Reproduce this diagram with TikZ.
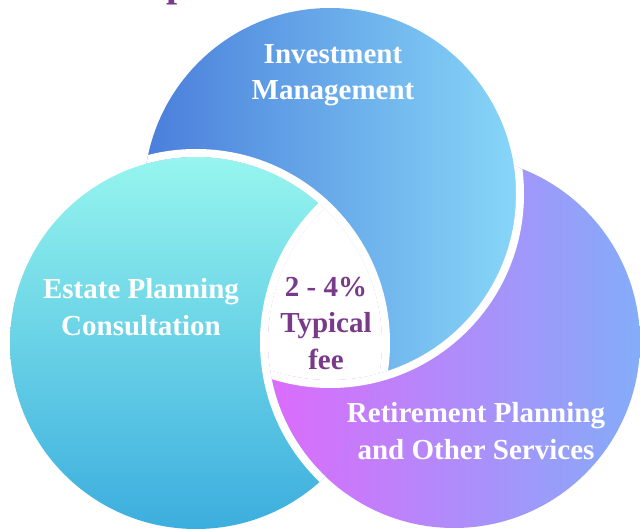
\documentclass[tikz,border=0pt]{standalone}
\usepackage{fontspec}
\setmainfont{Liberation Serif}
\usepackage{tikz}
\definecolor{invleft}{HTML}{4A7EDB}
\definecolor{invright}{HTML}{87D6F8}
\definecolor{esttop}{HTML}{96F5EE}
\definecolor{estbottom}{HTML}{3CAEDE}
\definecolor{retleft}{HTML}{DC6BFB}
\definecolor{retmid}{HTML}{B08CFA}
\definecolor{retright}{HTML}{84ACF9}
\definecolor{feepurple}{HTML}{7A3A8A}
\def\rad{186pt}
\def\ringrad{190pt}
\tikzset{ringgap/.style={draw=white, line width=8pt},
	invshade/.style={left color=invleft, right color=invright},
	estshade/.style={top color=esttop, bottom color=estbottom},
	retshade/.style={left color=retleft, right color=retright},
	retshadeb/.style={left color=retleft, middle color=retmid, right color=retright}}
\tikzstyle{caption}=[text=white, align=center,
font=\bfseries\fontsize{29}{36.5}\selectfont]
\tikzstyle{fee}=[caption, text=feepurple]

\begin{document}
\begin{tikzpicture}[x=1pt, y=-1pt]
	\useasboundingbox (0,0) rectangle (640,529);
	\coordinate (inv) at (330,194);
	\coordinate (est) at (196,343);
	\coordinate (ret) at (454,342);
	\shade[retshade] (ret) circle (\rad);
	\shade[invshade] (inv) circle (\rad);
	\shade[estshade] (est) circle (\rad);
	\begin{scope}
		\clip (est) circle (\rad);
		\shade[retshadeb] (ret) circle (\rad);
	\end{scope}
	\begin{scope}
		\clip (inv) circle (\rad);
		\clip (est) circle (\rad);
		\fill[white] (ret) circle (\rad);
	\end{scope}
	\begin{scope}
		\clip (inv) circle (\rad);
		\draw[ringgap] (est) circle (\ringrad);
	\end{scope}
	\begin{scope}
		\clip (est) circle (\rad);
		\draw[ringgap] (ret) circle (\ringrad);
	\end{scope}
	\begin{scope}
		\clip (ret) circle (\rad);
		\draw[ringgap] (inv) circle (\ringrad);
	\end{scope}
	\node[caption] (invlabel) at (333,75) {Investment\\Management};
	\node[caption] (estlabel) at (141,307) {Estate Planning\\Consultation};
	\node[caption] (retlabel) at (476,431) {Retirement Planning\\and Other Services};
	\node[fee] (feelabel) at (326,323) {2 - 4\%\\Typical\\fee};
	\node[fee, font=\bfseries\fontsize{40}{40}\selectfont, anchor=base west,
	inner sep=0pt] (heading) at (166,-3) {p};
\end{tikzpicture}
\end{document}
